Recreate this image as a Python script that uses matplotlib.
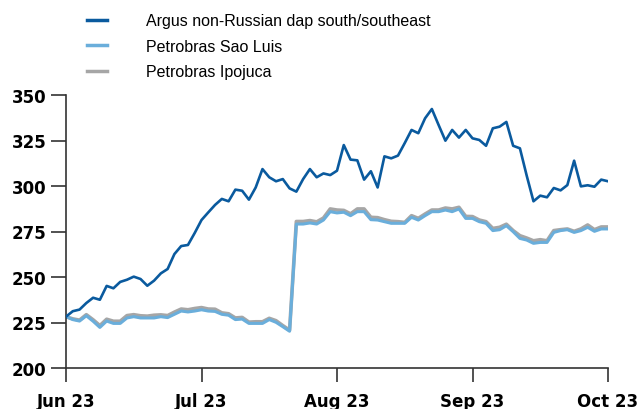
import numpy as np
import matplotlib
matplotlib.use("Agg")
import matplotlib.pyplot as plt
from matplotlib import font_manager

# =========================
# DATA (USD/t, business days Jun-Oct 2023)
# =========================
argus = [228.2, 231.2, 232.1, 235.7, 238.6, 237.5, 245.1, 243.8, 247.3, 248.5,
         250.2, 248.9, 245.2, 248.0, 252.0, 254.4, 262.6, 267.0, 267.6, 274.2,
         281.3, 285.5, 289.6, 292.9, 291.6, 298.0, 297.4, 292.5, 299.2, 309.3,
         304.8, 302.6, 303.8, 298.7, 296.9, 303.8, 309.3, 304.8, 306.9, 306.0,
         308.4, 322.5, 314.5, 314.1, 303.5, 308.1, 299.2, 316.3, 315.2, 316.7,
         323.6, 330.8, 329.0, 337.2, 342.3, 333.5, 324.9, 330.8, 326.6, 330.8,
         326.2, 325.3, 322.1, 331.7, 332.6, 335.2, 322.1, 320.7, 305.7, 291.6,
         294.7, 293.8, 298.9, 297.6, 300.5, 313.9, 299.8, 300.4, 299.6, 303.5,
         302.6]

sao_luis = [228.2, 226.6, 225.8, 228.7, 225.7, 222.3, 225.8, 224.5, 224.5, 227.5,
            228.2, 227.5, 227.5, 227.5, 228.2, 227.7, 229.5, 231.3, 230.8, 231.3,
            232.0, 231.3, 231.1, 229.5, 229.0, 226.6, 226.9, 224.5, 224.5, 224.5,
            226.6, 225.1, 222.7, 220.2, 279.1, 279.1, 279.7, 279.1, 281.3, 285.9,
            285.2, 285.6, 283.7, 285.9, 285.9, 281.5, 281.3, 280.4, 279.5, 279.5,
            279.5, 282.8, 281.3, 283.7, 285.9, 285.9, 286.8, 285.9, 287.4, 282.2,
            282.2, 280.4, 279.5, 275.5, 276.0, 278.2, 274.9, 271.2, 270.3, 268.5,
            269.0, 269.0, 274.5, 275.5, 276.0, 274.5, 275.5, 277.3, 275.1, 276.4,
            276.4]

ipojuca = [228.2, 227.0, 226.3, 229.3, 226.5, 223.3, 226.8, 225.7, 225.7, 228.8,
           229.3, 228.7, 228.5, 229.0, 229.2, 228.8, 230.7, 232.4, 232.0, 232.7,
           233.2, 232.4, 232.3, 230.3, 229.8, 227.5, 227.8, 225.2, 225.4, 225.4,
           227.3, 226.0, 223.3, 220.8, 280.5, 280.5, 281.0, 280.3, 282.4, 287.4,
           286.8, 286.6, 284.7, 287.4, 287.4, 282.8, 282.6, 281.5, 280.6, 280.4,
           280.0, 283.7, 282.2, 284.6, 286.8, 286.8, 287.9, 287.4, 288.3, 283.3,
           283.2, 281.3, 280.4, 276.7, 277.3, 279.0, 275.5, 272.7, 271.4, 269.9,
           270.5, 269.9, 275.5, 276.0, 276.4, 275.1, 276.4, 278.6, 276.0, 277.5,
           277.5]

month_ticks = [0, 20, 40, 60, 80]
month_labels = ["Jun 23", "Jul 23", "Aug 23", "Sep 23", "Oct 23"]

# pick a narrow font for the legend if there is one
installed = {f.name for f in font_manager.fontManager.ttflist}
if "Liberation Sans Narrow" in installed:
    legend_font, legend_size = "Liberation Sans Narrow", 13.5
elif "DejaVu Sans Condensed" in installed:
    legend_font, legend_size = "DejaVu Sans Condensed", 11
else:
    legend_font, legend_size = "Liberation Sans", 11.5

# =========================
# PLOT
# =========================
fig = plt.figure(figsize=(6.42, 4.10), dpi=100)
ax = fig.add_axes([66 / 642, 1 - 369 / 410, 542 / 642, 273 / 410])

x = np.arange(len(argus))
l3, = ax.plot(x, ipojuca, color="#a6a6a6", linewidth=2.6, zorder=1,
              label="Petrobras Ipojuca")
l2, = ax.plot(x, sao_luis, color="#6aaedb", linewidth=2.2, zorder=2,
              label="Petrobras Sao Luis")
l1, = ax.plot(x, argus, color="#0a5a9e", linewidth=1.9, zorder=3,
              label="Argus non-Russian dap south/southeast")

ax.set_xlim(0, 80)
ax.set_ylim(200, 350)
ax.set_yticks(range(200, 351, 25))
ax.set_xticks(month_ticks)
ax.set_xticklabels(month_labels)

for s in ["top", "right"]:
    ax.spines[s].set_visible(False)
for s in ["left", "bottom"]:
    ax.spines[s].set_color("#333333")
    ax.spines[s].set_linewidth(1.2)

ax.tick_params(axis="y", length=11, width=1.2, color="#333333", pad=3)
ax.tick_params(axis="x", length=10, width=1.2, color="#333333", pad=7)
for lab in ax.get_xticklabels() + ax.get_yticklabels():
    lab.set_fontweight("bold")
    lab.set_fontsize(12)

fig.legend(handles=[l1, l2, l3], loc="upper left",
           bbox_to_anchor=(81 / 642, 1 - 8 / 410), frameon=False,
           prop={"family": [legend_font, "DejaVu Sans"], "size": legend_size},
           handlelength=1.2, handletextpad=2.5, labelspacing=0.65,
           borderaxespad=0)
for h in fig.legends[0].get_lines():
    h.set_linewidth(2.5)

plt.savefig("out.png", dpi=100)
plt.close()
